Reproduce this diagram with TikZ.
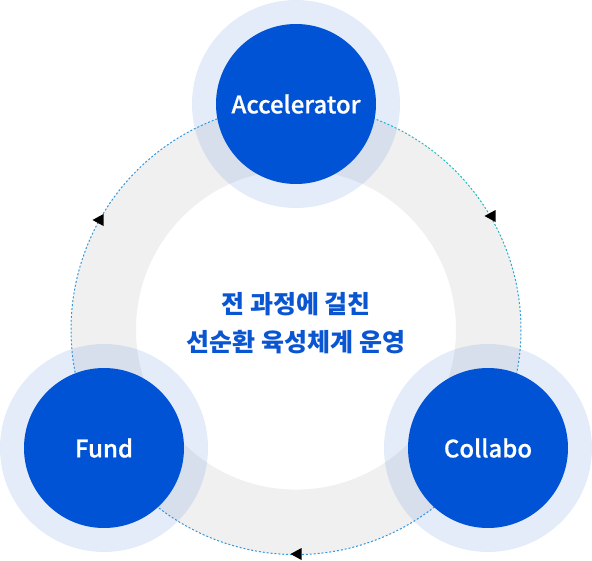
\documentclass[tikz,border=0pt]{standalone}
\usepackage{fontspec}
\setmainfont{Noto Sans CJK KR}
\newfontfamily\labelfont{Noto Sans CJK KR Medium}[FakeBold=0.6]
\usetikzlibrary{calc}
\begin{document}
\begin{tikzpicture}[x=1pt,y=-1pt,
  ringfill/.style={fill=ringgray,even odd rule},
  halo/.style={circle,fill=halocol,fill opacity=0.15,minimum size=208pt,inner sep=0pt},
  core/.style={circle,fill=coreblue,minimum size=160pt,inner sep=0pt,text=white,font=\labelfont\fontsize{24}{28}\selectfont},
  flowtip/.style={fill=black}
]
\definecolor{ringgray}{RGB}{240,240,240}
\definecolor{halocol}{RGB}{75,128,222}
\definecolor{coreblue}{RGB}{0,83,212}
\definecolor{dashblue}{RGB}{52,150,220}
\definecolor{dashteal}{RGB}{30,190,190}
\definecolor{titleblue}{RGB}{10,85,210}
\useasboundingbox (0,0) rectangle (592,560);
\coordinate (c) at (296,329.6);
% gray ring
\fill[ringfill] (c) circle[radius=225] (c) circle[radius=160];
% dotted gradient circle
\foreach \i in {0,...,59}{
  \pgfmathsetmacro{\a}{\i*6}
  \pgfmathsetmacro{\b}{\a+6}
  \pgfmathsetmacro{\cc}{max(0,cos(\a+3+50))}
  \pgfmathsetmacro{\t}{100*\cc*\cc*\cc}
  \draw[dashteal!\t!dashblue,line width=1pt,dash pattern=on 1.963pt off 1.963pt]
    ($(c)+(\a:225)$) arc[start angle=\a,end angle=\b,radius=225];
}
% halos
\node[halo] (accH) at (296,104) {};
\node[halo] (fundH) at (104,448) {};
\node[halo] (colH) at (488,448) {};
% cores
\node[core] (acc) at (296,104) {Accelerator};
\node[core] (fund) at (104,448) {Fund};
\node[core] (col) at (488,448) {Collabo};
% centre text
\node[text=titleblue,font=\fontsize{25}{38}\selectfont\bfseries,align=center] (title) at (296,323.5)
  {전 과정에 걸친\\선순환 육성체계 운영};
% arrow tips
\coordinate (tl) at (98,220);
\coordinate (tr) at (490,216);
\coordinate (tb) at (296,554);
\foreach \p in {tl,tr,tb}{
  \fill[flowtip] ($(\p)+(-5.5,0)$) -- ($(\p)+(5.5,-6)$) -- ($(\p)+(5.5,6)$) -- cycle;
}
\end{tikzpicture}
\end{document}
